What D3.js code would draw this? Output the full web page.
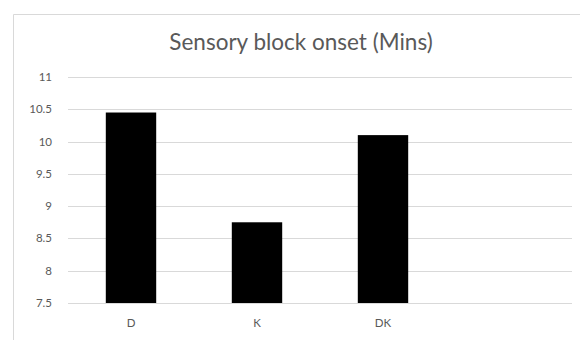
<!DOCTYPE html>
<html>
<head>
<meta charset="utf-8">
<script src="https://cdn.jsdelivr.net/npm/d3@7"></script>
<style>
  html, body { margin: 0; padding: 0; background: #fff; }
  svg { display: block; }
</style>
</head>
<body>
<svg id="chart" width="580" height="340"></svg>
<script>
// Sensory block onset, minutes, per group
const categories = ["D", "K", "DK"];
const onsetMins = [10.45, 8.75, 10.1];
const yTicks = [7.5, 8, 8.5, 9, 9.5, 10, 10.5, 11];
const chartTitle = "Sensory block onset (Mins)";

const svg = d3.select("#chart");
const font = "Lato, 'Open Sans', sans-serif";
const textColor = "#595959";
const gridColor = "#d9d9d9";

// chart area frame (runs off the right and bottom edge)
svg.append("path")
  .attr("d", "M13.5,340 V14.5 H580")
  .attr("fill", "none")
  .attr("stroke", gridColor)
  .attr("stroke-width", 1);

const plot = { left: 68, right: 572, top: 77, bottom: 303 };
const step = (plot.right - plot.left) / 4;

const y = d3.scaleLinear()
  .domain([7.5, 11])
  .range([plot.bottom, plot.top]);

const x = d3.scaleBand()
  .domain(categories)
  .range([plot.left, plot.left + step * categories.length])
  .paddingInner(0.6)
  .paddingOuter(0.3);

// horizontal gridlines
svg.append("g")
  .selectAll("line")
  .data(yTicks)
  .join("line")
  .attr("x1", plot.left)
  .attr("x2", plot.right)
  .attr("y1", d => Math.round(y(d)) + 0.5)
  .attr("y2", d => Math.round(y(d)) + 0.5)
  .attr("stroke", gridColor)
  .attr("stroke-width", 1);

// y tick labels
svg.append("g")
  .selectAll("text")
  .data(yTicks)
  .join("text")
  .attr("x", 52)
  .attr("y", d => y(d))
  .attr("dy", "0.35em")
  .attr("text-anchor", "end")
  .attr("font-family", font)
  .attr("font-size", 11.5)
  .attr("fill", textColor)
  .text(d => d);

// bars
svg.append("g")
  .selectAll("rect")
  .data(categories.map((c, i) => ({ c, v: onsetMins[i] })))
  .join("rect")
  .attr("x", d => x(d.c))
  .attr("width", x.bandwidth())
  .attr("y", d => y(d.v))
  .attr("height", d => y(7.5) - y(d.v))
  .attr("fill", "#000");

// category labels
svg.append("g")
  .selectAll("text")
  .data(categories)
  .join("text")
  .attr("x", d => x(d) + x.bandwidth() / 2)
  .attr("y", 327)
  .attr("text-anchor", "middle")
  .attr("font-family", font)
  .attr("font-size", 11.5)
  .attr("fill", textColor)
  .text(d => d);

// title
svg.append("text")
  .attr("x", 301)
  .attr("y", 50)
  .attr("text-anchor", "middle")
  .attr("font-family", font)
  .attr("font-size", 22.5)
  .attr("fill", textColor)
  .text(chartTitle);
</script>
</body>
</html>
